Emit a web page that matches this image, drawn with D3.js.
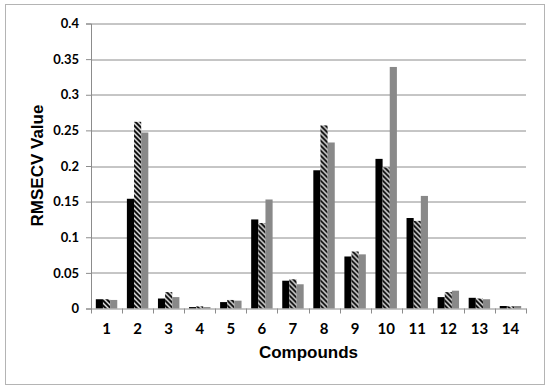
<!DOCTYPE html>
<html>
<head>
<meta charset="utf-8">
<script src="https://cdn.jsdelivr.net/npm/d3@7"></script>
<style>
  body { margin: 0; background: #fff; }
  .tick text { font-family: Lato, "Liberation Sans", sans-serif; font-weight: bold; fill: #000; }
  .title { font-family: "Liberation Sans", Arial, sans-serif; font-weight: bold; fill: #000; }
</style>
</head>
<body>
<script>
// compounds on the x axis
var compounds = ["1", "2", "3", "4", "5", "6", "7", "8", "9", "10", "11", "12", "13", "14"];
// three series
var seriesNames = ["black", "hatched", "gray"];
var blackVals   = [0.013, 0.154, 0.014, 0.002, 0.009, 0.125, 0.039, 0.194, 0.073, 0.210, 0.127, 0.016, 0.015, 0.0035];
var hatchedVals = [0.013, 0.262, 0.023, 0.003, 0.012, 0.120, 0.041, 0.257, 0.080, 0.198, 0.123, 0.023, 0.014, 0.003];
var grayVals    = [0.012, 0.247, 0.016, 0.002, 0.011, 0.153, 0.034, 0.233, 0.076, 0.339, 0.158, 0.025, 0.013, 0.0035];
var yTicks = [0, 0.05, 0.1, 0.15, 0.2, 0.25, 0.3, 0.35, 0.4];

var W = 550, H = 390;
var margin = {top: 23.5, right: 24, bottom: 81.5, left: 91},
    width = W - margin.left - margin.right,
    height = H - margin.top - margin.bottom;

var svg = d3.select("body").append("svg")
    .attr("width", W)
    .attr("height", H);

// light frame round the whole chart
svg.append("rect")
    .attr("x", 5.5).attr("y", 4.5)
    .attr("width", 539).attr("height", 380)
    .attr("fill", "none")
    .attr("stroke", "#b4b4b4");

// hatch pattern (wide downward diagonal)
var defs = svg.append("defs");
var pat = defs.append("pattern")
    .attr("id", "hatch")
    .attr("patternUnits", "userSpaceOnUse")
    .attr("width", 5).attr("height", 5);
pat.append("rect").attr("width", 5).attr("height", 5).attr("fill", "#fff");
pat.append("path")
    .attr("d", "M-1,-1L6,6M-1,4L1,6M4,-1L6,1")
    .attr("stroke", "#000")
    .attr("stroke-width", 2.1);

var g = svg.append("g")
    .attr("transform", "translate(" + margin.left + "," + margin.top + ")");

var x0 = d3.scaleBand().domain(compounds).range([0, width]).padding(0);
var bw = x0.bandwidth();
var x1 = d3.scaleBand().domain(seriesNames).range([bw * 0.155, bw * 0.845]).padding(0);
var y = d3.scaleLinear().domain([0, 0.4]).range([height, 0]);

// gridlines
g.append("g")
    .selectAll("line")
    .data(yTicks.slice(1))
    .enter().append("line")
    .attr("x1", 0).attr("x2", width)
    .attr("y1", function (d) { return Math.round(y(d)) + 0.5; })
    .attr("y2", function (d) { return Math.round(y(d)) + 0.5; })
    .attr("stroke", "#8c8c8c")
    .attr("stroke-width", 1);

var rows = compounds.map(function (c, i) {
    return {c: c, vals: [
        {s: "black", v: blackVals[i]},
        {s: "hatched", v: hatchedVals[i]},
        {s: "gray", v: grayVals[i]}
    ]};
});

var fills = {black: "#000", hatched: "url(#hatch)", gray: "#898989"};

g.selectAll(".grp")
    .data(rows)
    .enter().append("g")
    .attr("class", "grp")
    .attr("transform", function (d) { return "translate(" + x0(d.c) + ",0)"; })
    .selectAll("rect")
    .data(function (d) { return d.vals; })
    .enter().append("rect")
    .attr("x", function (d) { return x1(d.s); })
    .attr("width", x1.bandwidth())
    .attr("y", function (d) { return y(d.v); })
    .attr("height", function (d) { return height - y(d.v); })
    .attr("fill", function (d) { return fills[d.s]; });

// y axis
var yAxis = d3.axisLeft(y).tickValues(yTicks).tickSize(5).tickPadding(7)
    .tickFormat(function (d) { return d3.format("")(+d.toFixed(2)); });
var ya = g.append("g").call(yAxis);
ya.selectAll("path, line").attr("stroke", "#8c8c8c");
ya.selectAll("text").style("font-size", "13px");

// x axis with ticks at category boundaries
var xa = g.append("g").attr("transform", "translate(0," + height + ")")
    .call(d3.axisBottom(x0).tickSize(0).tickPadding(15));
xa.select(".domain").attr("stroke", "#8c8c8c");
xa.selectAll("text").style("font-size", "15px");
g.append("g").attr("transform", "translate(0," + height + ")")
    .selectAll("line")
    .data(compounds.concat(["end"]))
    .enter().append("line")
    .attr("x1", function (d, i) { return Math.round(i * bw) + 0.5; })
    .attr("x2", function (d, i) { return Math.round(i * bw) + 0.5; })
    .attr("y1", 0).attr("y2", 5)
    .attr("stroke", "#8c8c8c");

// axis titles
svg.append("text")
    .attr("class", "title")
    .attr("x", margin.left + width / 2)
    .attr("y", 358)
    .attr("text-anchor", "middle")
    .style("font-size", "17px")
    .text("Compounds");

svg.append("text")
    .attr("class", "title")
    .attr("transform", "translate(43,165.5) rotate(-90)")
    .attr("text-anchor", "middle")
    .style("font-size", "17px")
    .text("RMSECV Value");
</script>
</body>
</html>
